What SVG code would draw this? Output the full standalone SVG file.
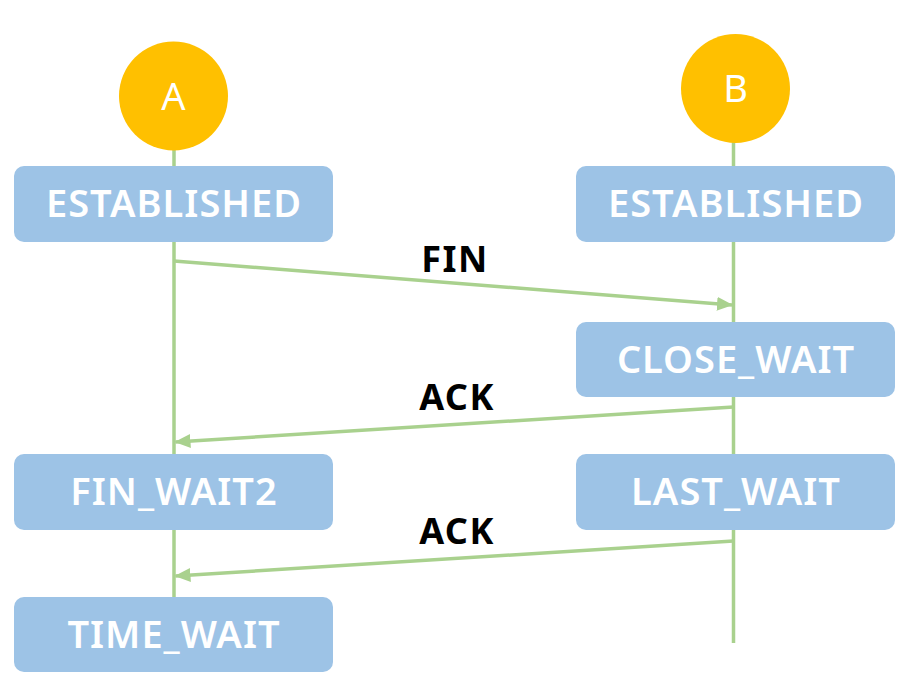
<svg xmlns="http://www.w3.org/2000/svg" width="904" height="697" viewBox="0 0 904 697">
<style>
.box{fill:#9DC3E6}
.bt{font-family:"Noto Sans","Open Sans",sans-serif;font-weight:600;font-size:38px;letter-spacing:1px;fill:#fff;text-anchor:middle}
.ct{font-family:"Noto Sans","Open Sans",sans-serif;font-size:38px;fill:#fff;text-anchor:middle}
.lt{font-family:"Noto Sans","Open Sans",sans-serif;font-weight:700;font-size:36px;letter-spacing:1.5px;fill:#000;text-anchor:middle}
.ln{stroke:#A9D18E;stroke-width:3.5;fill:none}
</style>
<defs>
<marker id="ah" markerWidth="16" markerHeight="14" refX="15" refY="7" orient="auto" markerUnits="userSpaceOnUse">
<path d="M0,0 L16,7 L0,14 Z" fill="#A9D18E"/>
</marker>
</defs>
<g id="lifelines">
<line class="ln" x1="174" y1="140" x2="174" y2="600"/>
<line class="ln" x1="733.5" y1="130" x2="733.5" y2="643"/>
</g>
<g id="A">
<circle cx="173.5" cy="96" r="54.5" fill="#FFC000"/>
<text class="ct" x="173.5" y="110">A</text>
</g>
<g id="B">
<circle cx="735.5" cy="88.5" r="54.5" fill="#FFC000"/>
<text class="ct" x="735.5" y="102">B</text>
</g>
<g id="estA"><rect class="box" x="14" y="166" width="319" height="76" rx="10"/><text class="bt" x="174" y="217">ESTABLISHED</text></g>
<g id="estB"><rect class="box" x="576" y="166" width="319" height="76" rx="10"/><text class="bt" x="736" y="217">ESTABLISHED</text></g>
<g id="closewait"><rect class="box" x="576" y="322" width="319" height="75" rx="10"/><text class="bt" x="736" y="373">CLOSE_WAIT</text></g>
<g id="finwait2"><rect class="box" x="14" y="454" width="319" height="76" rx="10"/><text class="bt" x="174" y="505">FIN_WAIT2</text></g>
<g id="lastwait"><rect class="box" x="576" y="454" width="319" height="76" rx="10"/><text class="bt" x="736" y="505">LAST_WAIT</text></g>
<g id="timewait"><rect class="box" x="14" y="597" width="319" height="75" rx="10"/><text class="bt" x="174" y="648">TIME_WAIT</text></g>
<g id="connectors">
<line class="ln" x1="174" y1="261" x2="732" y2="305" marker-end="url(#ah)"/>
<line class="ln" x1="733.5" y1="407" x2="175.5" y2="442" marker-end="url(#ah)"/>
<line class="ln" x1="733.5" y1="541" x2="175.5" y2="576" marker-end="url(#ah)"/>
<text class="lt" x="455" y="272">FIN</text>
<text class="lt" x="457" y="410">ACK</text>
<text class="lt" x="457" y="544">ACK</text>
</g>
</svg>
